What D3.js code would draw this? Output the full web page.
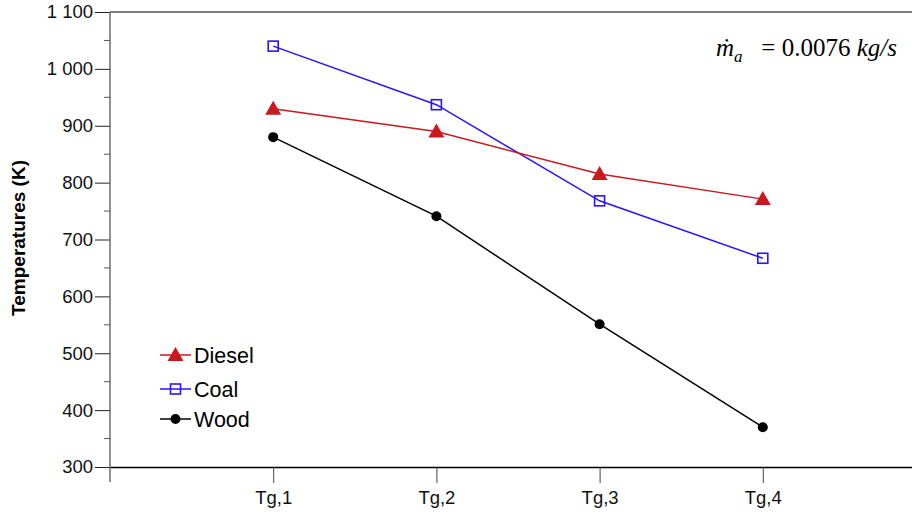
<!DOCTYPE html>
<html><head><meta charset="utf-8">
<script src="https://cdn.jsdelivr.net/npm/d3@7/dist/d3.min.js"></script>
<style>body{margin:0;background:#fff}svg{display:block}</style>
</head><body>
<script>
const categories = ["Tg,1","Tg,2","Tg,3","Tg,4"];
const diesel = [930, 890, 815, 771];
const coal = [1040, 937, 768, 667];
const wood = [880, 741, 551, 370];
const yTicks = [300,400,500,600,700,800,900,1000,1100];
const yMinorTicks = [350,450,550,650,750,850,950,1050];
const seriesNames = ["Diesel","Coal","Wood"];

const W=912,H=517;
const svg=d3.select("body").append("svg").attr("width",W).attr("height",H);
const x=d3.scalePoint().domain(categories).range([110,926]).padding(1);
const y=d3.scaleLinear().domain([300,1100]).range([467,12]);
const font="'Liberation Sans', Arial, sans-serif";

// top line
svg.append("line").attr("x1",110).attr("x2",912).attr("y1",y(1100)).attr("y2",y(1100)).attr("stroke","#000").attr("stroke-width",1);

// x axis
const gx=svg.append("g").attr("transform",`translate(0,${y(300)})`)
 .call(d3.axisBottom(x).tickSize(16).tickSizeOuter(0));
gx.select(".domain").attr("stroke","#000").attr("stroke-width",1.3);
gx.selectAll(".tick line").attr("stroke","#444");
gx.selectAll(".tick text").attr("font-family",font).attr("font-size",18.5).attr("dy","0.95em").attr("fill","#111");

// y axis
const gy=svg.append("g").attr("transform","translate(110,0)")
 .call(d3.axisLeft(y).tickValues(yTicks).tickSize(15).tickSizeOuter(0)
   .tickFormat(d=>d>=1000? d3.format(",")(d).replace(","," "):d));
gy.select(".domain").remove();
gy.append("line").attr("x1",0).attr("x2",0).attr("y1",y(1100)).attr("y2",482).attr("stroke","#555").attr("stroke-width",1.3);
gy.selectAll(".tick line").attr("stroke","#222");
gy.selectAll(".tick text").attr("font-family",font).attr("font-size",18.5).attr("fill","#111").attr("x",-17);
gy.selectAll(".minor").data(yMinorTicks).enter().append("line")
 .attr("x1",-6).attr("x2",0).attr("y1",d=>y(d)).attr("y2",d=>y(d)).attr("stroke","#555");

// y title
svg.append("text").attr("transform","translate(25,238) rotate(-90)").attr("text-anchor","middle")
 .attr("font-family",font).attr("font-weight","bold").attr("font-size",19).text("Temperatures (K)");

const series=[
 {name:"Diesel",vals:diesel,color:"#c8191e",marker:"tri"},
 {name:"Coal",vals:coal,color:"#2a14ff",marker:"sq"},
 {name:"Wood",vals:wood,color:"#000",marker:"circ"}];
const line=d3.line().x((d,i)=>x(categories[i])).y(d=>y(d));

function marker(g,type,color,cx,cy){
 if(type==="tri") g.append("path").attr("d",`M${cx},${cy-8}L${cx+8},${cy+6}L${cx-8},${cy+6}Z`).attr("fill",color);
 else if(type==="sq") g.append("rect").attr("x",cx-5).attr("y",cy-5).attr("width",10).attr("height",10).attr("fill","none").attr("stroke",color).attr("stroke-width",1.6);
 else g.append("circle").attr("cx",cx).attr("cy",cy).attr("r",5).attr("fill",color);
}

[series[2],series[1],series[0]].forEach(s=>{
 svg.append("path").datum(s.vals).attr("d",line).attr("fill","none").attr("stroke",s.color).attr("stroke-width",1.5);
});
[series[2],series[1],series[0]].forEach(s=>{
 const g=svg.append("g");
 s.vals.forEach((v,i)=>marker(g,s.marker,s.color,x(categories[i]),y(v)));
});

// legend
const ly=[355,389,419];
series.forEach((s,i)=>{
 const g=svg.append("g");
 g.append("line").attr("x1",160).attr("x2",191).attr("y1",ly[i]).attr("y2",ly[i]).attr("stroke",s.color).attr("stroke-width",1.5);
 marker(g,s.marker,s.color,175.5,ly[i]);
 g.append("text").attr("x",194).attr("y",ly[i]+8).attr("font-family",font).attr("font-size",21.5).text(s.name);
});

// annotation
const ann=svg.append("text").attr("x",897).attr("y",56).attr("text-anchor","end")
 .attr("font-family","'Liberation Serif','DejaVu Serif',serif").attr("font-size",25);
ann.append("tspan").attr("font-style","italic").text("ṁ");
ann.append("tspan").attr("font-style","italic").attr("font-size",17).attr("dy",6).text("a");
ann.append("tspan").attr("dy",-6).attr("xml:space","preserve").text("\u2002 = 0.0076 ");
ann.append("tspan").attr("font-style","italic").text("kg/s");
</script>
</body></html>
